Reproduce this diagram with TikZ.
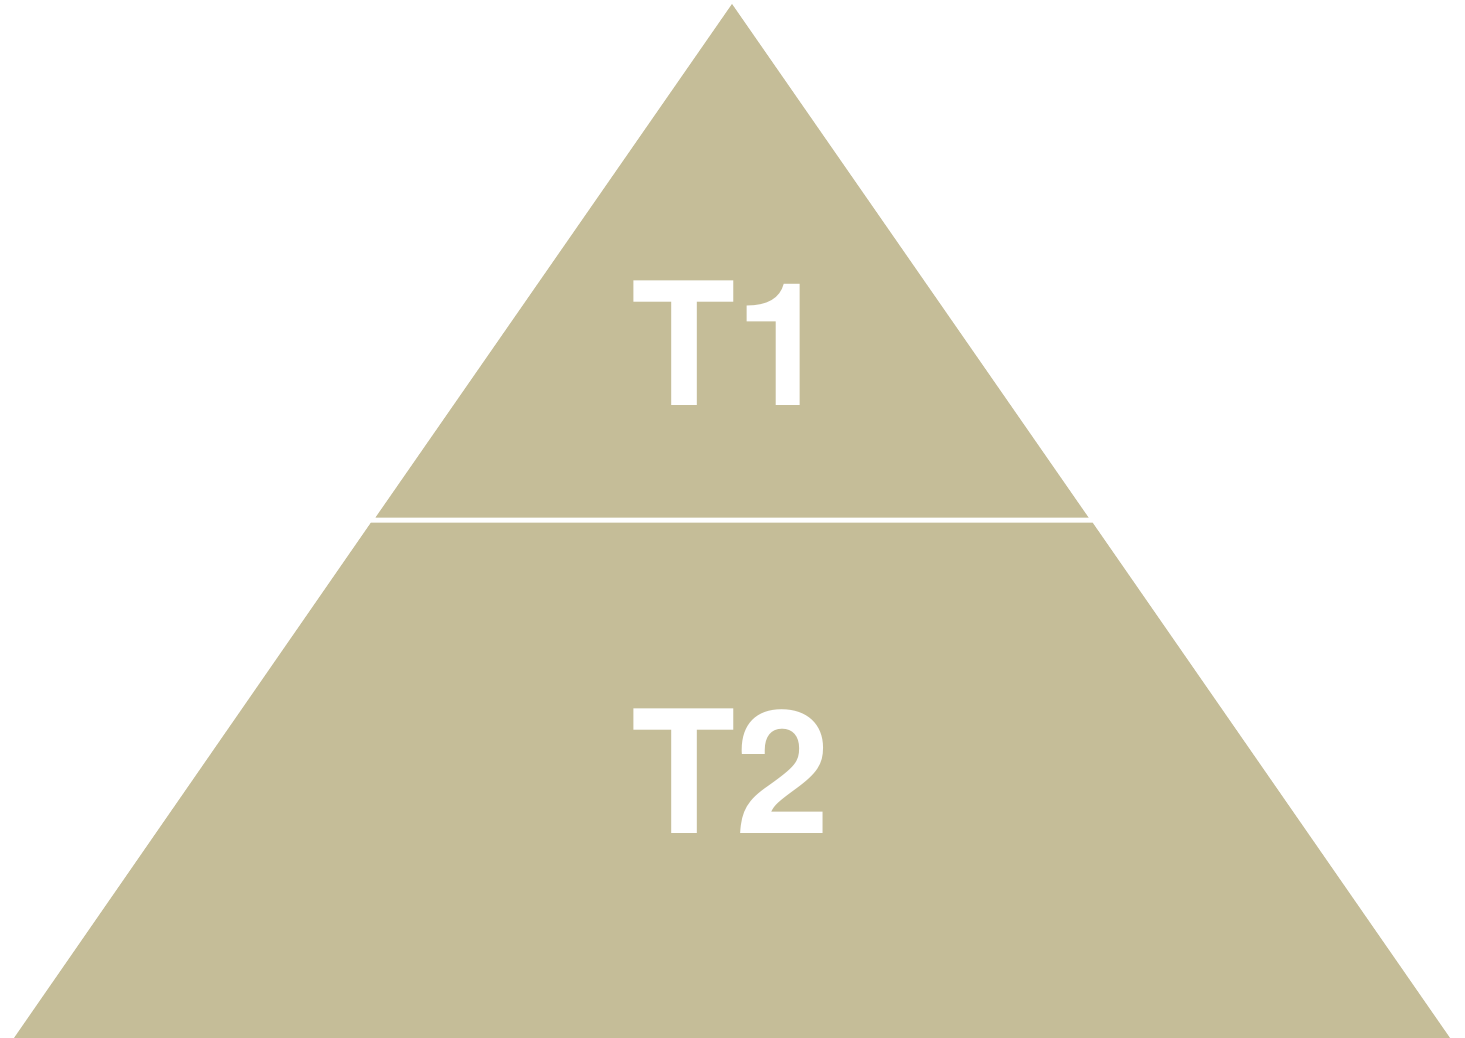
\documentclass[tikz,border=0pt]{standalone}
\usepackage{fontspec}
\setmainfont{TeX Gyre Heros}
\definecolor{khaki}{HTML}{C5BD98}
\begin{document}
\begin{tikzpicture}[x=1pt,y=-1pt,
  tier/.style={fill=khaki,draw=none},
  lbl/.style={text=white,font=\fontsize{171}{171}\selectfont\bfseries,inner sep=0pt,anchor=base}]
\useasboundingbox (0,0) rectangle (1465,1038);
\coordinate (apex) at (732,4);
\coordinate (tl) at (375.5,517.5);
\coordinate (tr) at (1088.5,517.5);
\coordinate (bl) at (371,522.5);
\coordinate (br) at (1092.5,522.5);
\coordinate (bbl) at (14,1038);
\coordinate (bbr) at (1450,1038);
\fill[tier] (apex) -- (tr) -- (tl) -- cycle;
\fill[tier] (bl) -- (br) -- (bbr) -- (bbl) -- cycle;
\node[lbl] (t1) at (731,405) {T1};
\node[lbl] (t2) at (731,833) {T2};
\end{tikzpicture}
\end{document}
